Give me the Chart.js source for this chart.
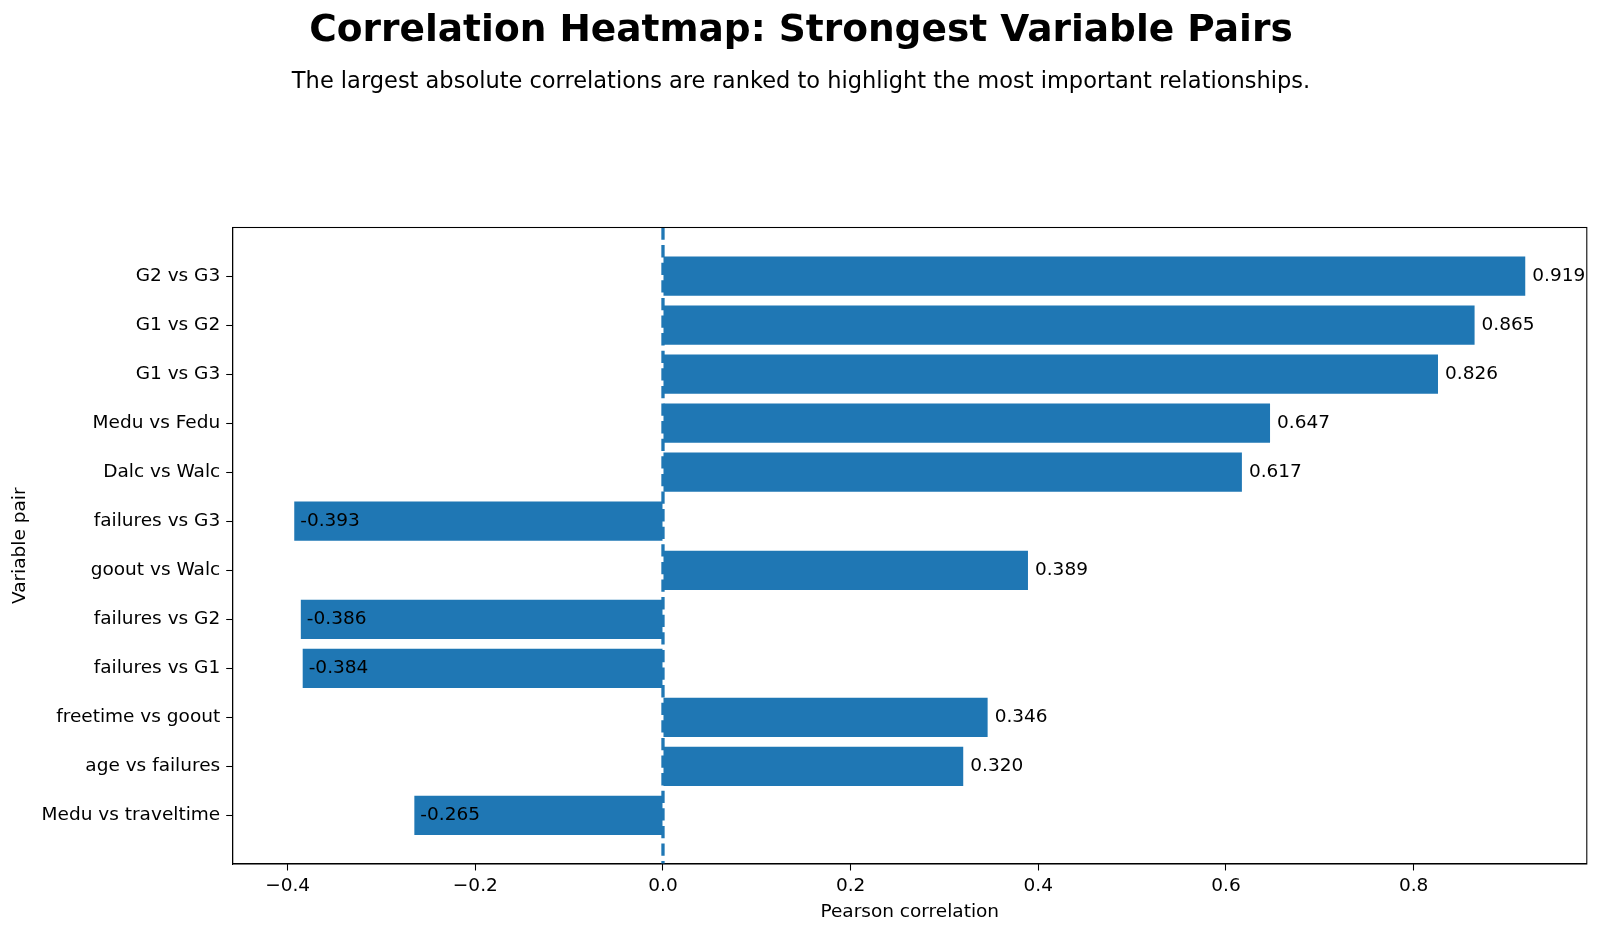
<!DOCTYPE html>
<html>
<head>
<meta charset="utf-8">
<script src="https://cdn.jsdelivr.net/npm/chart.js@4.4.0/dist/chart.umd.min.js"></script>
<style>
    body { margin: 0; background: #fff; }
    canvas { display: block; }
</style>
</head>
<body>
<canvas id="corrChart" width="1600" height="934"></canvas>
<script>
// data
var pairLabels = ['G2 vs G3', 'G1 vs G2', 'G1 vs G3', 'Medu vs Fedu', 'Dalc vs Walc', 'failures vs G3',
    'goout vs Walc', 'failures vs G2', 'failures vs G1', 'freetime vs goout', 'age vs failures', 'Medu vs traveltime'];
var correlations = [0.919, 0.865, 0.826, 0.647, 0.617, -0.393, 0.389, -0.386, -0.384, 0.346, 0.320, -0.265];
var xTicks = [-0.4, -0.2, 0.0, 0.2, 0.4, 0.6, 0.8];

var titleText = 'Correlation Heatmap: Strongest Variable Pairs';
var subtitleText = 'The largest absolute correlations are ranked to highlight the most important relationships.';

var blue = '#1f77b4';
var fontFamily = "'DejaVu Sans', 'Liberation Sans', sans-serif";

// axis limits like matplotlib's default 5% margins
var lo = Math.min(0, Math.min.apply(null, correlations));
var hi = Math.max(0, Math.max.apply(null, correlations));
var xPad = (hi - lo) * 0.05;
var yLo = -0.4, yHi = pairLabels.length - 1 + 0.4;
var yPad = (yHi - yLo) * 0.05;

var points = correlations.map(function(v, i){ return {x: v, y: i}; });

var textPlugin = {
    id: 'textPlugin',
    afterDatasetsDraw: function(chart){
        var ctx = chart.ctx;
        var area = chart.chartArea;
        var x0 = chart.scales.x.getPixelForValue(0);

        // dashed zero line
        ctx.save();
        ctx.strokeStyle = blue;
        ctx.lineWidth = 3.3;
        ctx.setLineDash([12.3, 5.3]);
        ctx.beginPath();
        ctx.moveTo(x0, area.top);
        ctx.lineTo(x0, area.bottom);
        ctx.stroke();
        ctx.restore();

        // value labels
        var meta = chart.getDatasetMeta(0);
        ctx.save();
        ctx.font = '18.5px ' + fontFamily;
        ctx.fillStyle = '#000';
        ctx.textAlign = 'left';
        ctx.textBaseline = 'middle';
        meta.data.forEach(function(bar, i){
            var v = correlations[i];
            ctx.fillText(v.toFixed(3), bar.x + (v >= 0 ? 7 : 6), bar.y);
        });
        ctx.restore();
    },
    afterDraw: function(chart){
        var ctx = chart.ctx;
        var area = chart.chartArea;
        ctx.save();
        // frame
        ctx.strokeStyle = '#000';
        ctx.lineWidth = 1.07;
        ctx.strokeRect(area.left, area.top, area.right - area.left, area.bottom - area.top);
        // titles
        ctx.fillStyle = '#000';
        ctx.textAlign = 'center';
        ctx.textBaseline = 'middle';
        ctx.font = 'bold 37.5px ' + fontFamily;
        ctx.fillText(titleText, 801, 31);
        ctx.font = '22.5px ' + fontFamily;
        ctx.fillText(subtitleText, 801, 82);
        ctx.restore();
    }
};

var chart = new Chart(document.getElementById('corrChart').getContext('2d'), {
    type: 'bar',
    data: {
        datasets: [{
            label: 'Pearson correlation',
            data: points,
            backgroundColor: blue,
            borderWidth: 0,
            barPercentage: 0.8,
            categoryPercentage: 1.0
        }]
    },
    options: {
        indexAxis: 'y',
        responsive: false,
        animation: false,
        devicePixelRatio: 1,
        layout: { padding: { top: 227.5, right: 13.2, bottom: 0, left: 0 } },
        plugins: {
            legend: { display: false },
            tooltip: { enabled: false },
            title: { display: false }
        },
        scales: {
            x: {
                type: 'linear',
                min: lo - xPad,
                max: hi + xPad,
                offset: false,
                afterBuildTicks: function(scale){
                    scale.ticks = xTicks.map(function(v){ return {value: v}; });
                },
                afterFit: function(scale){ scale.height = 934 - 864; },
                grid: { offset: false, drawOnChartArea: false, drawTicks: true, tickLength: 6.5, tickWidth: 1.07, tickColor: '#000' },
                border: { display: true, color: '#000', width: 1.07 },
                ticks: {
                    autoSkip: false,
                    maxRotation: 0,
                    padding: 4.7,
                    color: '#000',
                    font: { family: fontFamily, size: 18.5 },
                    callback: function(v){ return v.toFixed(1).replace('-', '\u2212'); }
                },
                title: {
                    display: true,
                    text: 'Pearson correlation',
                    color: '#000',
                    font: { family: fontFamily, size: 18.5 },
                    padding: { top: 0, bottom: 11 }
                }
            },
            y: {
                type: 'linear',
                reverse: true,
                min: yLo - yPad,
                max: yHi + yPad,
                offset: false,
                afterBuildTicks: function(scale){
                    scale.ticks = pairLabels.map(function(l, i){ return {value: i}; });
                },
                afterFit: function(scale){ scale.width = 232.7; },
                grid: { offset: false, drawOnChartArea: false, drawTicks: true, tickLength: 6.5, tickWidth: 1.07, tickColor: '#000' },
                border: { display: true, color: '#000', width: 1.07 },
                ticks: {
                    autoSkip: false,
                    padding: 6,
                    color: '#000',
                    font: { family: fontFamily, size: 18.5 },
                    callback: function(v){ return pairLabels[v]; }
                },
                title: {
                    display: true,
                    text: 'Variable pair',
                    color: '#000',
                    font: { family: fontFamily, size: 18.5 },
                    padding: { top: 9, bottom: 0 }
                }
            }
        }
    },
    plugins: [textPlugin]
});
</script>
</body>
</html>
